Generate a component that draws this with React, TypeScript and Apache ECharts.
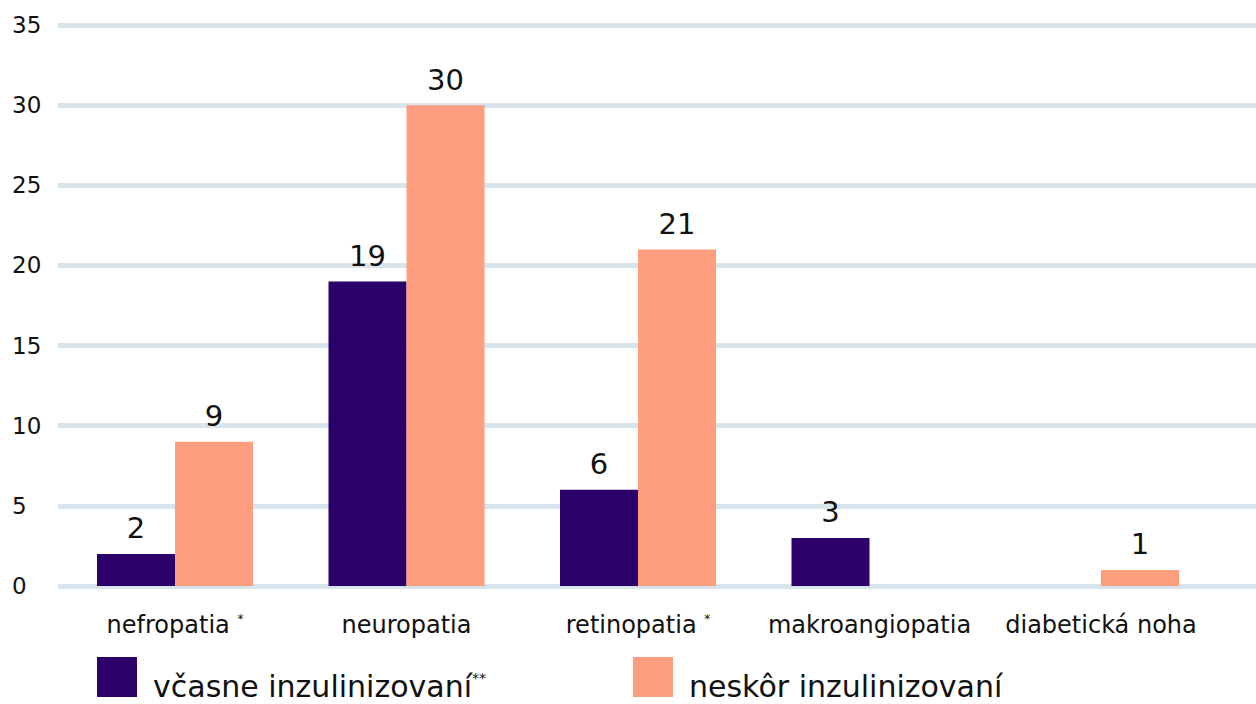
import React, { useEffect, useRef } from "react";
import * as echarts from "echarts";

const categories = ["nefropatia", "neuropatia", "retinopatia", "makroangiopatia", "diabetická noha"];
const starred = ["nefropatia", "retinopatia"];
const seriesEarlyName = "včasne inzulinizovaní";
const seriesLateName = "neskôr inzulinizovaní";
const earlyValues: (number | null)[] = [2, 19, 6, 3, null];
const lateValues: (number | null)[] = [9, 30, 21, null, 1];
const yTicks = [0, 5, 10, 15, 20, 25, 30, 35];

const FONT = "DejaVu Sans";
const DARK = "#2b0068";
const SALMON = "#ff9e7e";

export default function App() {
  const ref = useRef<HTMLDivElement>(null);
  useEffect(() => {
    if (!ref.current) return;
    const chart = echarts.init(ref.current, undefined, { renderer: "svg" });
    const top = 25;
    const height = 561;
    const labelStyle = {
      show: true,
      position: "top" as const,
      distance: 11,
      color: "#111",
      fontSize: 29,
      fontFamily: FONT,
      formatter: (p: any) => (p.value == null ? "" : String(p.value)),
    };
    const legendRich = {
      a: { fontSize: 30, color: "#111", fontFamily: FONT },
      s: { fontSize: 14, color: "#111", fontFamily: FONT, verticalAlign: "top", padding: [0, 0, 14, 0] },
    };
    chart.setOption({
      animation: false,
      textStyle: { fontFamily: FONT },
      grid: [
        { left: 59.25, right: 39.25, top, height, containLabel: false },
        { left: 58, right: 0, top, height, containLabel: false },
      ],
      xAxis: [
        {
          type: "category",
          gridIndex: 0,
          data: categories,
          axisLine: { show: false },
          axisTick: { show: false },
          axisLabel: {
            interval: 0,
            margin: 27,
            fontSize: 24,
            color: "#111",
            fontFamily: FONT,
            formatter: (v: string) => (starred.includes(v) ? `{n|${v} }{s|*}` : `{n|${v}}`),
            rich: {
              n: { fontSize: 24, color: "#111", fontFamily: FONT },
              s: { fontSize: 12, color: "#111", fontFamily: FONT, verticalAlign: "top", padding: [0, 0, 12, 0] },
            },
          },
        },
        { type: "value", gridIndex: 1, show: false, min: 0, max: 1 },
      ],
      yAxis: [
        { type: "value", gridIndex: 0, min: yTicks[0], max: yTicks[yTicks.length - 1], interval: 5, show: false, splitLine: { show: false } },
        {
          type: "value",
          gridIndex: 1,
          min: yTicks[0],
          max: yTicks[yTicks.length - 1],
          interval: 5,
          axisLine: { show: false },
          axisTick: { show: false },
          axisLabel: { align: "left", margin: 46, fontSize: 23, color: "#111", fontFamily: FONT },
          splitLine: { show: true, lineStyle: { color: "#d7e4ec", width: 5 } },
        },
      ],
      legend: [
        {
          data: [seriesEarlyName],
          left: 97,
          top: 657,
          padding: 0,
          itemWidth: 40,
          itemHeight: 40,
          icon: "rect",
          formatter: (n: string) => `{a|${n}}{s|**}`,
          textStyle: { padding: [18, 0, 0, 11], rich: legendRich },
        },
        {
          data: [seriesLateName],
          left: 633,
          top: 657,
          padding: 0,
          itemWidth: 40,
          itemHeight: 40,
          icon: "rect",
          formatter: (n: string) => `{a|${n}}`,
          textStyle: { padding: [18, 0, 0, 11], rich: legendRich },
        },
      ],
      series: [
        {
          name: seriesEarlyName,
          type: "bar",
          xAxisIndex: 0,
          yAxisIndex: 0,
          data: earlyValues,
          barWidth: 78,
          barGap: "0%",
          itemStyle: { color: DARK },
          label: labelStyle,
          z: 3,
        },
        {
          name: seriesLateName,
          type: "bar",
          xAxisIndex: 0,
          yAxisIndex: 0,
          data: lateValues,
          barWidth: 78,
          barGap: "0%",
          itemStyle: { color: SALMON },
          label: labelStyle,
          z: 3,
        },
      ],
    });
    return () => chart.dispose();
  }, []);
  return <div ref={ref} style={{ width: 1256, height: 704, position: "absolute", left: 0, top: 0 }} />;
}
